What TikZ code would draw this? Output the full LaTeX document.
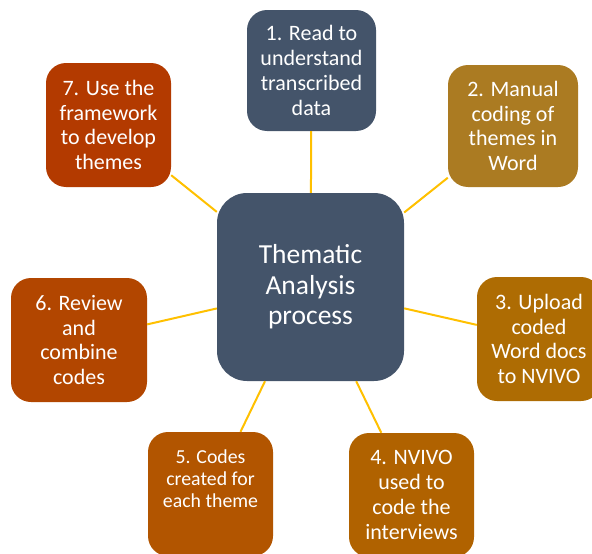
\documentclass[tikz,border=0pt]{standalone}
\usepackage{fontspec}
\setmainfont{Carlito}
\definecolor{slate}{HTML}{44546A}
\definecolor{c2}{HTML}{AB7B22}
\definecolor{c3}{HTML}{AE6C03}
\definecolor{c4}{HTML}{B06200}
\definecolor{c5}{HTML}{B25500}
\definecolor{c6}{HTML}{B24600}
\definecolor{c7}{HTML}{B33A00}
\definecolor{linkc}{HTML}{FFC000}
\tikzset{
  box/.style={rounded corners=20pt, inner sep=0pt, align=center, text=white,
    font=\fontsize{22}{24.8}\selectfont},
  mainbox/.style={rounded corners=30pt, inner sep=0pt, align=center, text=white,
    fill=slate, font=\fontsize{27.5}{30.5}\selectfont},
  link/.style={draw=linkc, line width=2pt}
}
\begin{document}
\begin{tikzpicture}[x=1pt,y=-1pt]
\useasboundingbox (0,0) rectangle (592,554);
\clip (0,0) rectangle (592,554);
\node[mainbox, minimum width=187pt, minimum height=188pt] (c) at (310.5,287) {Thematic\\Analysis\\process};
\node[box, fill=slate, minimum width=129pt, minimum height=121pt] (b1) at (311.5,70.5) {1. Read to\\understand\\transcribed\\data};
\node[box, fill=c2, minimum width=130pt, minimum height=122pt] (b2) at (513,126) {2. Manual\\coding of\\themes in\\Word};
\node[box, fill=c3, minimum width=124pt, minimum height=124pt] (b3) at (539,339) {3. Upload\\coded\\Word docs\\to NVIVO};
\node[box, fill=c4, minimum width=125pt, minimum height=124pt] (b4) at (411.5,495) {4. NVIVO\\used to\\code the\\interviews};
\node[box, fill=c5, minimum width=125pt, minimum height=124pt] (b5) at (210.5,494) {};
\node[box, font=\fontsize{19.8}{22}\selectfont] (t5) at (210.5,479) {5. Codes\\created for\\each theme};
\node[box, fill=c6, minimum width=136pt, minimum height=124pt] (b6) at (79,340) {6. Review\\and\\combine\\codes};
\node[box, fill=c7, minimum width=125pt, minimum height=124pt] (b7) at (108.5,125) {7. Use the\\framework\\to develop\\themes};
\foreach \b in {b1,b2,b3,b4,b5,b6,b7}{
  \draw[link] (c) -- (\b);
}
\end{tikzpicture}
\end{document}
